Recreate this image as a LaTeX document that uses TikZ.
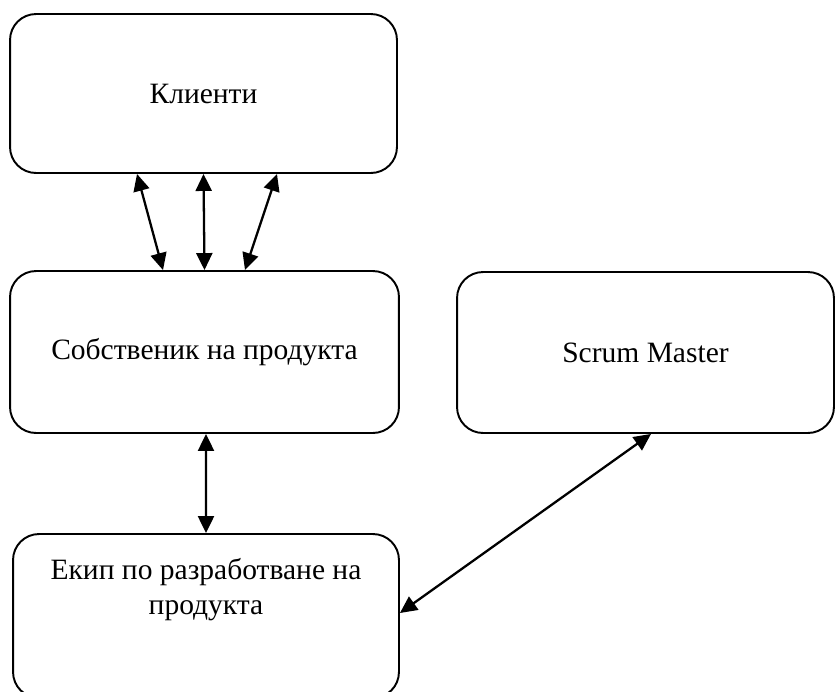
\documentclass[tikz,border=0pt]{standalone}
\usepackage{fontspec}
\setmainfont{Liberation Serif}
\usetikzlibrary{arrows.meta}

\begin{document}
\begin{tikzpicture}[x=0.02cm, y=-0.02cm, >={Triangle[length=0.34cm,width=0.32cm]},
  box/.style={draw, rectangle, rounded corners=0.52cm, line width=1.1pt, align=center,
    font=\fontsize{16.8}{20.2}\selectfont, inner sep=0pt},
  link/.style={<->, line width=1.3pt}]
\useasboundingbox (0,0) rectangle (835,691);
\clip (0,0) rectangle (835,691);

\node[box, minimum width=7.74cm, minimum height=3.18cm] (kl) at (203.5,93.5) {Клиенти};
\node[box, minimum width=7.78cm, minimum height=3.24cm] (sob) at (204.5,352) {Собственик на продукта};
\node[box, minimum width=7.54cm, minimum height=3.22cm] (sm) at (645.5,352.5) {Scrum Master};
\node[box, minimum width=7.72cm, minimum height=3.28cm] (ekip) at (206,616) {};
\node[align=center, inner sep=0pt, font=\fontsize{16.8}{20.2}\selectfont] (ekiptxt) at (206,589.5)
  {Екип по разработване на\\продукта};

\draw[link] ([xshift=-1.33cm]kl.south) -- ([xshift=-0.83cm]sob.north);
\draw[link] (kl.south) -- (sob.north);
\draw[link] ([xshift=1.47cm]kl.south) -- ([xshift=0.81cm]sob.north);

\draw[link] ([xshift=0.03cm]sob.south) -- (ekip.north);
\draw[link] ([xshift=0.11cm]sm.south) -- ([yshift=0.06cm]ekip.east);
\end{tikzpicture}
\end{document}
